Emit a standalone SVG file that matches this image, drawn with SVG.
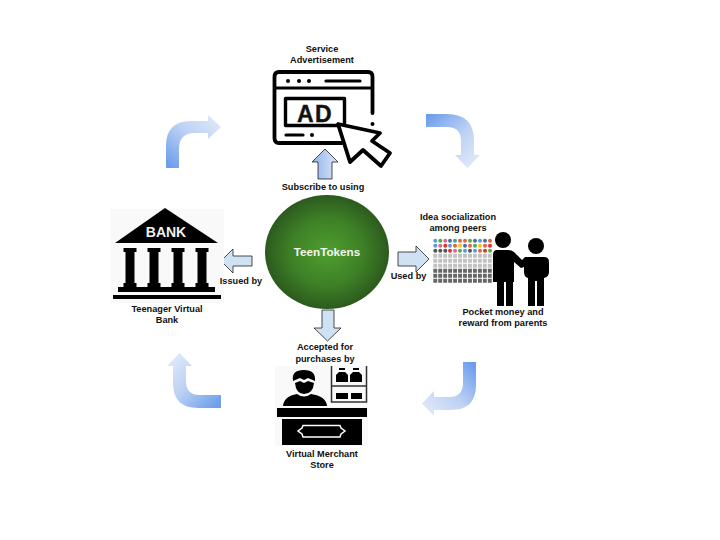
<svg xmlns="http://www.w3.org/2000/svg" xmlns:xlink="http://www.w3.org/1999/xlink" width="720" height="540" viewBox="0 0 720 540">
<style>
text{font-family:"Liberation Sans",Arial,sans-serif;font-weight:700;font-size:9.2px;fill:#111;text-anchor:middle}
.blk{stroke:#000;stroke-linecap:round;stroke-linejoin:round;fill:none}
.fb{fill:#000}
.ar{stroke:#222;stroke-width:.8;stroke-linejoin:miter}
</style>
<defs>
<radialGradient id="ball" cx="50%" cy="50%" r="50%"><stop offset="0" stop-color="#4f9f2f"/><stop offset="0.6" stop-color="#3d7f26"/><stop offset="1" stop-color="#2c5a1e"/></radialGradient>
<linearGradient id="up" x1="0" y1="0" x2="1" y2="0"><stop offset="0" stop-color="#8fb2ec"/><stop offset="1" stop-color="#dce7f8"/></linearGradient>
<linearGradient id="tl" gradientUnits="userSpaceOnUse" x1="172" y1="168" x2="215" y2="118"><stop offset="0" stop-color="#6d9eeb"/><stop offset="0.55" stop-color="#bcd1f4"/><stop offset="1" stop-color="#dde7f9"/></linearGradient>
<linearGradient id="tr" gradientUnits="userSpaceOnUse" x1="426" y1="118" x2="470" y2="166"><stop offset="0" stop-color="#6d9eeb"/><stop offset="0.55" stop-color="#bcd1f4"/><stop offset="1" stop-color="#dde7f9"/></linearGradient>
<linearGradient id="br" gradientUnits="userSpaceOnUse" x1="470" y1="362" x2="426" y2="408"><stop offset="0" stop-color="#6d9eeb"/><stop offset="0.55" stop-color="#bcd1f4"/><stop offset="1" stop-color="#dde7f9"/></linearGradient>
<linearGradient id="bl" gradientUnits="userSpaceOnUse" x1="221" y1="402" x2="176" y2="356"><stop offset="0" stop-color="#6d9eeb"/><stop offset="0.55" stop-color="#bcd1f4"/><stop offset="1" stop-color="#dde7f9"/></linearGradient>
<filter id="soft" x="-5%" y="-5%" width="110%" height="110%"><feGaussianBlur stdDeviation="0.5"/></filter>
<circle id="d" r="2"/>
</defs>

<g id="connectors">
<path d="M166,168V146Q166,121 191,121H208V115L221,127L208,139V133H195Q179,133 179,149V168Z" fill="url(#tl)"/>
<path d="M426,114H447Q474,114 474,141V155H480L467.5,168L455,155H461V141Q461,127 447,127H426Z" fill="url(#tr)"/>
<path d="M476,362V385Q476,410 451,410H434V416L422,403.5L434,391V397H449Q463,397 463,383V362Z" fill="url(#br)"/>
<path d="M221,395H200Q186,395 186,381V366H192L179.5,353L167,366H173V383Q173,408 198,408H221Z" fill="url(#bl)"/>
<path class="ar" d="M325,149L338,162H332V179H318V162H312Z" fill="url(#up)"/>
<path class="ar" d="M221,261L233,249V256H252V266H233V273Z" fill="#cfe2f3"/>
<path class="ar" d="M398,252H416V246L429,259L416,272V266H398Z" fill="#cfe2f3"/>
<path class="ar" d="M322,310H334V328H341L327.5,341L314,328H322Z" fill="#cfe2f3"/>
</g>

<g id="node-center">
<ellipse cx="327" cy="252" rx="62" ry="57" fill="url(#ball)"/>
<text x="327" y="256" style="font-size:11.700px;fill:#f4f7f2">TeenTokens</text>
</g>

<g id="node-ad">
<g filter="url(#soft)">
<path class="blk" stroke-width="3.8" d="M342,143H279Q274.500,143 274.500,138V77Q274.500,72 279,72H368Q372.500,72 372.500,77V113"/>
<path class="blk" stroke-width="3.2" d="M275,88H372M326,81H360M286,135H303"/>
<circle cx="288" cy="81" r="2"/><circle cx="299" cy="81" r="2"/><circle cx="309" cy="81" r="2"/>
<circle cx="312" cy="135" r="2"/><circle cx="372.500" cy="124" r="2"/>
<rect class="blk" stroke-width="3.4" x="285.500" y="98.500" width="59" height="27"/>
<path d="M338,124L380,133L372,141L390,153L381,166L363,150L350,162Z" fill="#fff" stroke="#000" stroke-width="3.800" stroke-linejoin="round"/>
</g>
<text x="315" y="122" style="font-size:23px;fill:#111;stroke:#111;stroke-width:.4px;letter-spacing:1.500px">AD</text>
<text x="322" y="52">Service</text>
<text x="322" y="63">Advertisement</text>
<text x="323" y="190">Subscribe to using</text>
</g>

<g id="node-bank">
<rect x="110" y="209" width="114" height="94" fill="#f9f9f9"/>
<g class="fb" filter="url(#soft)">
<path d="M165,208L218,243H115Z"/>
<path d="M123.500,248H136.500V252H134.500V283H136.500V287H123.500V283H125.500V252H123.500Z"/>
<path d="M147.500,248H160.500V252H158.500V283H160.500V287H147.500V283H149.500V252H147.500Z"/>
<path d="M171.500,248H184.500V252H182.500V283H184.500V287H171.500V283H173.500V252H171.500Z"/>
<path d="M195.500,248H208.500V252H206.500V283H208.500V287H195.500V283H197.500V252H195.500Z"/>
<rect x="118" y="287" width="97" height="5"/>
<rect x="113" y="295" width="108" height="4"/>
</g>
<text x="166" y="237" style="font-size:14px;fill:#f2f2f2">BANK</text>
<text x="167" y="312">Teenager Virtual</text>
<text x="167" y="323">Bank</text>
<text x="241" y="284">Issued by</text>
</g>

<g id="node-peers">
<g filter="url(#soft)">
<g id="grid">
<g fill="#5b9bd5"><use xlink:href="#d" x="435.300" y="240.700"/><use xlink:href="#d" x="480" y="240.700"/><use xlink:href="#d" x="450" y="245.700"/><use xlink:href="#d" x="435.300" y="245.700"/><use xlink:href="#d" x="465" y="250.700"/><use xlink:href="#d" x="475" y="250.700"/></g>
<g fill="#4caf50"><use xlink:href="#d" x="440.300" y="240.700"/><use xlink:href="#d" x="470" y="240.700"/><use xlink:href="#d" x="475" y="245.700"/><use xlink:href="#d" x="490" y="250.700"/><use xlink:href="#d" x="460" y="250.700"/></g>
<g fill="#ec5f97"><use xlink:href="#d" x="445.300" y="240.700"/><use xlink:href="#d" x="440.300" y="245.700"/><use xlink:href="#d" x="455" y="250.700"/></g>
<g fill="#e8613f"><use xlink:href="#d" x="460" y="240.700"/><use xlink:href="#d" x="465" y="240.700"/><use xlink:href="#d" x="490" y="240.700"/><use xlink:href="#d" x="455" y="245.700"/><use xlink:href="#d" x="470" y="245.700"/><use xlink:href="#d" x="480" y="250.700"/><use xlink:href="#d" x="485" y="245.700"/></g>
<g fill="#4a6fa5"><use xlink:href="#d" x="450" y="240.700"/><use xlink:href="#d" x="475" y="240.700"/><use xlink:href="#d" x="485" y="240.700"/><use xlink:href="#d" x="465" y="245.700"/></g>
<g fill="#3aa6a0"><use xlink:href="#d" x="455" y="240.700"/></g>
<g fill="#f5c518"><use xlink:href="#d" x="460" y="245.700"/><use xlink:href="#d" x="480" y="245.700"/></g>
<g fill="#d9352b"><use xlink:href="#d" x="445.300" y="245.700"/><use xlink:href="#d" x="450" y="250.700"/><use xlink:href="#d" x="485" y="250.700"/><use xlink:href="#d" x="490" y="245.700"/></g>
<g fill="#555"><use xlink:href="#d" x="435.300" y="250.700"/><use xlink:href="#d" x="440.300" y="250.700"/><use xlink:href="#d" x="445.300" y="250.700"/><use xlink:href="#d" x="470" y="250.700"/></g>
</g>
<path d="M433.300,255.700H492M433.300,260.700H492M433.300,265.700H492" stroke="#c2c2c2" stroke-width="4" stroke-dasharray="3.900 1.060" fill="none"/>
<path d="M433.300,270.700H492M433.300,275.700H492M433.300,280.700H492" stroke="#666" stroke-width="4" stroke-dasharray="3.900 1.060" fill="none"/>
<g class="fb">
<circle cx="503" cy="240" r="8"/>
<path d="M497,250H508Q512,250 514,252L522,260L525,257H530L527,266L521,268L514,262V282H513V306H506V282H504V306H497V282H493V255Q493,250 497,250Z"/>
<circle cx="536" cy="246" r="8"/>
<path d="M529,257H544Q549,257 549,262V272Q549,277 544,278V306H537V281H535V306H528V278Q524,277 524,272V262Q524,257 529,257Z"/>
</g>
</g>
<text x="458" y="220">Idea socialization</text>
<text x="458" y="231">among peers</text>
<text x="408.500" y="279">Used by</text>
<text x="503" y="315">Pocket money and</text>
<text x="503" y="326">reward from parents</text>
</g>

<g id="node-store">
<rect x="275" y="366" width="93" height="80" fill="#f9f9f9"/>
<g filter="url(#soft)">
<g class="fb">
<path d="M293,381Q291,370 304,370Q316,370 315,381L308,378L304,380L300,378Z"/>
<path d="M295,383L300,381L304,383L308,381L314,383Q313,394 304,394Q296,394 295,383Z"/>
<path d="M283,406Q284,396 297,394Q304,399 311,394Q326,396 327,406Z"/>
<rect x="277" y="408" width="90" height="9"/>
<rect x="282" y="419" width="80" height="26"/>
<path d="M339,372H345L348,375V382H336V375Z"/>
<path d="M353,372H359L362,375V382H350V375Z"/>
<rect x="339" y="368" width="6" height="2"/>
<rect x="353" y="368" width="6" height="2"/>
<rect x="336" y="393" width="12" height="6"/>
<rect x="351" y="393" width="11" height="6"/>
</g>
<path d="M331.500,366V402H366.500V366M331.500,386H366.500" stroke="#333" stroke-width="1.500" fill="none"/>
<path d="M303,425.500H340L341,428L345,431L341,434L340,437H303L302,434L298,431L302,428Z" fill="none" stroke="#fff" stroke-width="1.500"/>
</g>
<text x="325" y="350">Accepted for</text>
<text x="325" y="362">purchases by</text>
<text x="322" y="457">Virtual Merchant</text>
<text x="322" y="468">Store</text>
</g>
</svg>
